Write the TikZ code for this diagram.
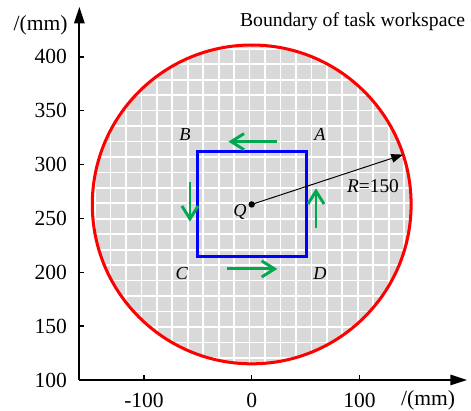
\documentclass[tikz,border=0pt]{standalone}
\usepackage{fontspec}
\setmainfont{Liberation Serif}
\usetikzlibrary{arrows.meta}
\definecolor{pathgreen}{RGB}{0,168,80}
\definecolor{cellgray}{RGB}{217,217,217}
\begin{document}
\begin{tikzpicture}[x=1pt,y=1pt,
  axis/.style={line width=1.9pt,-{Triangle[length=15.5pt,width=9.5pt]}},
  ticklab/.style={font=\fontsize{20}{24}\selectfont},
  corner/.style={font=\fontsize{17}{20}\selectfont\itshape},
  moveto/.style={pathgreen,line width=2.7pt,-{Straight Barb[length=12pt,width=15pt]}}]
\useasboundingbox (-233.7,71.2) rectangle (203.6,452.8);
% task workspace: grey disc with a white grid
\coordinate (Q) at (0,263);
\begin{scope}
  \clip (Q) circle (148);
  \fill[cellgray] (Q) circle (148);
  \foreach \k in {-11,...,11}{
    \draw[white,line width=1.6pt] (-2+14.35*\k,100) -- ++(0,330);
    \draw[white,line width=1.6pt] (-160,264+14.35*\k) -- ++(330,0);
  }
\end{scope}
\draw[red,line width=2.8pt] (Q) circle (148);
% axes
\coordinate (O) at (-160,100);
\coordinate (xend) at (200,100);
\coordinate (yend) at (-160,446.6);
\draw[axis] (O) -- (xend);
\draw[axis] (O) -- (yend);
\foreach \x in {-100,0,100}{
  \draw[line width=1.2pt] (\x,100) -- ++(0,4.5);
  \node[ticklab] (xl\x) at (\x,81.4) {\x};
}
\foreach \y in {150,200,...,400}
  \draw[line width=1.2pt] (-160,\y) -- ++(4.5,0);
\foreach \y in {100,150,...,400}
  \node[ticklab,anchor=east] (yl\y) at (-168,\y) {\y};
\node[ticklab] (xunit) at (163.7,81.4) {/(mm)};
\node[ticklab] (yunit) at (-196,429.6) {/(mm)};
\node[font=\fontsize{18.3}{22}\selectfont] (title) at (93.6,432.4) {Boundary of task workspace};
% square path A-B-C-D
\coordinate (A) at (51,312);
\coordinate (B) at (-50,312);
\coordinate (C) at (-50,214.5);
\coordinate (D) at (51,214.5);
\draw[blue,line width=2.8pt] (A) -- (B) -- (C) -- (D) -- cycle;
\node[corner] (lA) at (63.4,327.5) {A};
\node[corner] (lB) at (-61.9,327.5) {B};
\node[corner] (lC) at (-65,199.1) {C};
\node[corner] (lD) at (63.4,199.1) {D};
% direction of motion
\draw[moveto] (23.2,321.3) -- (-21.6,321.3);
\draw[moveto] (-57.3,284.1) -- (-57.3,247);
\draw[moveto] (-22.7,203.1) -- (23.8,203.1);
\draw[moveto] (59.7,240.9) -- (59.7,277.9);
% radius
\fill (Q) circle (3);
\node[corner] (lQ) at (-10.9,256.3) {Q};
\path (Q) ++(18.2:148) coordinate (Rend);
\draw[line width=0.9pt,-{Triangle[length=11pt,width=8pt]}] (Q) -- (Rend);
\node[font=\fontsize{18}{22}\selectfont] (lR) at (112.6,279.5) {\textit{R}=150};
\end{tikzpicture}
\end{document}
